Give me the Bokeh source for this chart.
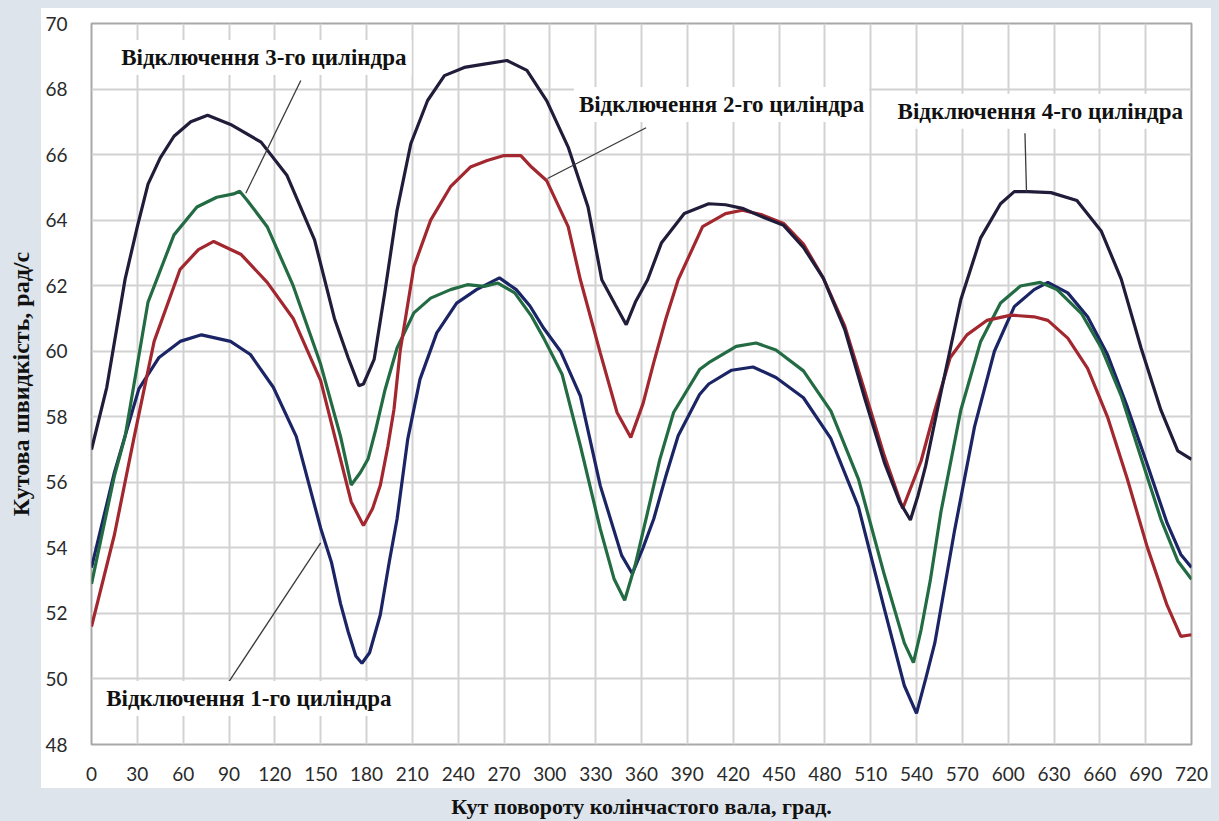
from bokeh.plotting import figure
from bokeh.models import FixedTicker, Label
from bokeh.embed import file_html
from bokeh.resources import INLINE

# ---- data ----
x_ticks = list(range(0, 721, 30))
y_ticks = list(range(48, 71, 2))

# Відключення 4-го циліндра (dark curve)
x_cyl4 = [0, 10, 22, 30, 37, 45, 54, 65, 76, 91, 111, 128, 146, 159, 168, 175, 178, 185, 192, 200,
          209, 220, 231, 244, 257, 272, 285, 298, 312, 325, 334, 343, 350, 356, 364, 373, 388, 404, 415, 426,
          439, 453, 466, 479, 493, 506, 519, 529, 536, 541, 546, 556, 569, 582, 595, 604, 613, 628, 645, 661,
          674, 687, 700, 711, 720]
y_cyl4 = [57.0, 58.9, 62.2, 63.8, 65.1, 65.9, 66.56, 67.0, 67.2, 66.92, 66.38, 65.36, 63.4, 61.0, 59.8, 58.95, 59.0, 59.75, 61.8, 64.3,
          66.33, 67.65, 68.41, 68.66, 68.76, 68.87, 68.57, 67.64, 66.23, 64.4, 62.18, 61.4, 60.81, 61.5, 62.18, 63.3, 64.2, 64.5, 64.47, 64.36,
          64.1, 63.84, 63.17, 62.23, 60.67, 58.58, 56.6, 55.4, 54.85, 55.6, 56.5, 58.74, 61.57, 63.46, 64.5, 64.87, 64.87, 64.84, 64.6, 63.66,
          62.2, 60.1, 58.2, 56.96, 56.7]

# Відключення 2-го циліндра (red curve)
x_cyl2 = [0, 15, 28, 41, 58, 70, 80, 98, 115, 132, 150, 163, 170, 178, 184, 189, 194, 198, 202, 211,
          222, 235, 248, 259, 270, 281, 288, 298, 312, 320, 333, 344, 353, 361, 368, 376, 384, 400, 415, 426,
          439, 453, 466, 479, 493, 506, 519, 531, 543, 552, 562, 573, 586, 602, 617, 626, 639, 652, 665, 678,
          691, 704, 713, 720]
y_cyl2 = [51.6, 54.4, 57.4, 60.3, 62.5, 63.1, 63.35, 62.95, 62.1, 61.0, 59.1, 56.7, 55.4, 54.68, 55.2, 55.9, 57.1, 58.23, 60.0, 62.58,
          64.0, 65.02, 65.62, 65.82, 65.97, 65.97, 65.62, 65.2, 63.8, 62.18, 59.95, 58.13, 57.37, 58.4, 59.65, 61.0, 62.18, 63.8, 64.2, 64.3,
          64.16, 63.9, 63.27, 62.23, 60.77, 58.8, 56.8, 55.2, 56.65, 58.2, 59.8, 60.5, 60.94, 61.1, 61.05, 60.94, 60.4, 59.48, 58.0, 56.1,
          54.03, 52.25, 51.3, 51.35]

# Відключення 3-го циліндра (green curve)
x_cyl3 = [0, 15, 22, 37, 54, 69, 82, 93, 97, 102, 115, 132, 150, 163, 170, 176, 181, 186, 192, 200,
          211, 222, 235, 246, 257, 266, 277, 288, 296, 308, 320, 333, 342, 349, 356, 364, 372, 381, 398, 404,
          422, 435, 448, 466, 484, 502, 519, 532, 538, 543, 549, 556, 569, 582, 595, 608, 621, 632, 648, 661,
          674, 687, 700, 711, 720]
y_cyl3 = [52.9, 56.2, 57.4, 61.5, 63.55, 64.4, 64.7, 64.8, 64.88, 64.6, 63.8, 62.0, 59.6, 57.4, 55.92, 56.3, 56.71, 57.6, 58.8, 60.1,
          61.17, 61.62, 61.88, 62.03, 61.98, 62.08, 61.78, 61.07, 60.4, 59.3, 57.11, 54.58, 53.06, 52.4, 53.5, 55.09, 56.7, 58.13, 59.44, 59.65,
          60.15, 60.25, 60.04, 59.4, 58.17, 56.1, 53.17, 51.1, 50.5, 51.5, 53.0, 55.1, 58.2, 60.3, 61.47, 61.99, 62.1, 61.88, 61.15, 60.1,
          58.64, 56.75, 54.87, 53.6, 53.04]

# Відключення 1-го циліндра (blue curve)
x_cyl1 = [0, 15, 31, 44, 58, 72, 91, 104, 119, 134, 150, 157, 163, 168, 173, 177, 182, 189, 195, 200,
          207, 215, 226, 239, 252, 267, 278, 287, 296, 307, 320, 333, 347, 354, 361, 368, 376, 384, 398, 404,
          419, 433, 448, 466, 484, 502, 519, 532, 540, 546, 552, 565, 578, 591, 604, 617, 626, 639, 652, 665,
          678, 691, 704, 713, 720]
y_cyl1 = [53.4, 56.3, 58.85, 59.8, 60.3, 60.5, 60.3, 59.9, 58.9, 57.4, 54.6, 53.57, 52.3, 51.44, 50.7, 50.48, 50.8, 51.95, 53.6, 54.88,
          57.32, 59.14, 60.56, 61.47, 61.88, 62.24, 61.88, 61.38, 60.7, 60.0, 58.63, 55.9, 53.77, 53.21, 54.0, 54.88, 56.2, 57.42, 58.68, 59.0,
          59.42, 59.52, 59.2, 58.58, 57.33, 55.25, 52.13, 49.8, 48.95, 50.0, 51.1, 54.55, 57.7, 60.0, 61.36, 61.88, 62.1, 61.78, 61.05, 59.9,
          58.3, 56.55, 54.76, 53.8, 53.4]

# callout texts and leader lines
label_texts = ["Відключення 3-го циліндра", "Відключення 2-го циліндра",
               "Відключення 4-го циліндра", "Відключення 1-го циліндра"]
label_x = [112.8, 412.4, 621.0, 103.0]
label_y = [68.96, 67.53, 67.32, 49.4]
leader_x0 = [137.0, 363.0, 611.0, 89.0]
leader_y0 = [68.26, 66.82, 66.65, 49.85]
leader_x1 = [101.0, 298.5, 612.0, 150.0]
leader_y1 = [64.82, 65.27, 64.87, 54.15]

x_title = "Кут повороту колінчастого вала, град."
y_title = "Кутова швидкість, рад/с"

# ---- figure ----
p = figure(width=1219, height=821, output_backend="svg", toolbar_location=None,
           x_range=(0, 720), y_range=(48, 70),
           min_border_left=91, min_border_right=28, min_border_top=23, min_border_bottom=74)
# page backdrop: light bluish surround with a white panel behind plot and tick labels
p.border_fill_alpha = 0
p.styles = {"background": "linear-gradient(#ffffff, #ffffff) 41px 8px / 1170px 780px no-repeat, #dde4eb"}
p.background_fill_color = "white"
p.outline_line_color = "#a8a8a8"
p.outline_line_width = 2

for ax in (p.xaxis[0], p.yaxis[0]):
    ax.axis_line_color = None
    ax.major_tick_line_color = None
    ax.minor_tick_line_color = None
    ax.major_label_text_font = "Lato"
    ax.major_label_text_font_size = "19px"
    ax.major_label_text_color = "#2a2a2a"
    ax.axis_label_text_font = "Liberation Serif"
    ax.axis_label_text_font_style = "bold"
    ax.axis_label_text_color = "#111111"

p.xaxis[0].ticker = FixedTicker(ticks=x_ticks)
p.yaxis[0].ticker = FixedTicker(ticks=y_ticks)
p.xaxis[0].major_label_standoff = 16
p.yaxis[0].major_label_standoff = 18
p.xaxis[0].axis_label = x_title
p.yaxis[0].axis_label = y_title
p.xaxis[0].axis_label_text_font_size = "22px"
p.yaxis[0].axis_label_text_font_size = "24px"
p.xaxis[0].axis_label_standoff = 10
p.yaxis[0].axis_label_standoff = 8

p.xgrid.ticker = FixedTicker(ticks=x_ticks)
p.ygrid.ticker = FixedTicker(ticks=y_ticks)
p.grid.grid_line_color = "#d2d2d2"
p.grid.grid_line_width = 2

# curves
p.line(x_cyl1, y_cyl1, line_color="#1b2566", line_width=3.2)
p.line(x_cyl3, y_cyl3, line_color="#226b43", line_width=3.2)
p.line(x_cyl2, y_cyl2, line_color="#a3272f", line_width=3.2)
p.line(x_cyl4, y_cyl4, line_color="#221c3b", line_width=3.2)

# leader lines
p.segment(x0=leader_x0, y0=leader_y0, x1=leader_x1, y1=leader_y1,
          line_color="#3a3a3a", line_width=1.3)

# callout labels
for t, lx, ly in zip(label_texts, label_x, label_y):
    p.add_layout(Label(x=lx, y=ly, text=t, text_align="center", text_baseline="middle",
                       text_font="Liberation Serif", text_font_style="bold",
                       text_font_size="23px", text_color="#111111",
                       background_fill_color="white", background_fill_alpha=1.0,
                       padding=5))

open("out.html", "w").write(file_html(p, INLINE))
